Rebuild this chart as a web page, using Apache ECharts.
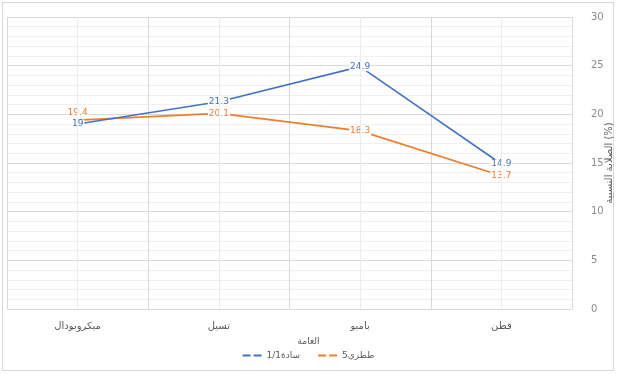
<!DOCTYPE html>
<html>
<head>
<meta charset="utf-8">
<script src="https://cdn.jsdelivr.net/npm/echarts@6/dist/echarts.min.js"></script>
<style>
  html, body { margin: 0; padding: 0; background: #fff; }
  #chart { width: 617px; height: 374px; }
</style>
</head>
<body>
<div id="chart"></div>
<script>
// Fabric types along the horizontal axis
const categories = ['ميكروبودال', 'تسيل', 'بامبو', 'قطن'];
// Measured percentages for each weave
const seriesNames = ['سادة1/1', 'ططري5'];
const plainValues = [19, 21.3, 24.9, 14.9];
const twillValues = [19.4, 20.1, 18.3, 13.7];
// Value axis ticks
const yTicks = [0, 5, 10, 15, 20, 25, 30];
const legendTitle = 'العامة';
const yAxisTitle = 'الصلابة النسبية (%)';

const FONT = "'DejaVu Sans', 'Noto Sans', sans-serif";
const BLUE = '#4472C4';
const ORANGE = '#ED7D31';

const chart = echarts.init(document.getElementById('chart'), null, { renderer: 'canvas' });

function makeLabel(color) {
  return {
    show: true,
    position: 'inside',
    color: color,
    fontSize: 9,
    fontFamily: FONT,
    backgroundColor: '#fff',
    padding: [0, 1]
  };
}

// First orange label sits above its point so the two labels don't collide
const twillData = twillValues.map((v, i) => i === 0
  ? { value: v, label: { position: 'top', distance: 3 } }
  : v);

const dashIcon = 'path://M0,0h8v2h-8z M11,0h8v2h-8z';

chart.setOption({
  animation: false,
  backgroundColor: '#fff',
  textStyle: { fontFamily: FONT },
  graphic: [{
    type: 'rect',
    shape: { x: 2.5, y: 2.5, width: 611, height: 368 },
    style: { fill: 'none', stroke: '#d9d9d9', lineWidth: 1 },
    silent: true
  }],
  title: {
    text: legendTitle,
    left: 'center',
    top: 332,
    textStyle: { fontSize: 9, fontWeight: 'normal', color: '#595959', fontFamily: FONT }
  },
  legend: {
    data: seriesNames,
    left: 'center',
    top: 346,
    icon: dashIcon,
    itemWidth: 19,
    itemHeight: 2,
    itemGap: 18,
    textStyle: { fontSize: 9, color: '#595959', fontFamily: FONT }
  },
  grid: { left: 7, right: 45, top: 17, bottom: 65, containLabel: false, outerBoundsMode: 'none' },
  xAxis: {
    type: 'category',
    data: categories,
    boundaryGap: true,
    axisLine: { show: false },
    axisTick: { show: false },
    axisLabel: { color: '#595959', fontSize: 10, margin: 12, fontFamily: FONT },
    splitLine: { show: true, lineStyle: { color: '#d9d9d9', width: 1 } }
  },
  yAxis: {
    type: 'value',
    position: 'right',
    min: yTicks[0],
    max: yTicks[yTicks.length - 1],
    interval: yTicks[1] - yTicks[0],
    axisLine: { show: false },
    axisTick: { show: false },
    axisLabel: { color: '#8c8c8c', fontSize: 10, margin: 19, fontFamily: FONT },
    splitLine: { show: true, lineStyle: { color: '#d9d9d9', width: 1 } },
    minorTick: { show: false, splitNumber: 5 },
    minorSplitLine: { show: true, lineStyle: { color: '#f0f0f0', width: 1 } },
    name: yAxisTitle,
    nameLocation: 'middle',
    nameRotate: 90,
    nameGap: 32,
    nameMoveOverlap: false,
    nameTextStyle: { color: '#595959', fontSize: 10, fontFamily: FONT }
  },
  series: [
    {
      name: seriesNames[0],
      type: 'line',
      data: plainValues,
      symbol: 'circle',
      symbolSize: 0,
      lineStyle: { color: BLUE, width: 1.6 },
      itemStyle: { color: BLUE },
      label: makeLabel(BLUE),
      z: 3,
      // Lighter guide lines through each category centre
      markLine: {
        silent: true,
        symbol: 'none',
        label: { show: false },
        lineStyle: { color: '#ececec', type: 'solid', width: 1 },
        data: categories.map(c => ({ xAxis: c }))
      }
    },
    {
      name: seriesNames[1],
      type: 'line',
      data: twillData,
      symbol: 'circle',
      symbolSize: 0,
      lineStyle: { color: ORANGE, width: 1.6 },
      itemStyle: { color: ORANGE },
      label: makeLabel(ORANGE),
      z: 2
    }
  ]
});
</script>
</body>
</html>
